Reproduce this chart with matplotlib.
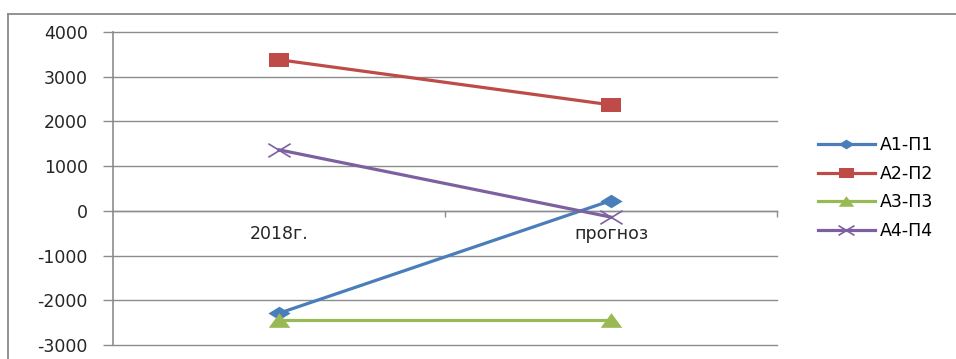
import matplotlib
matplotlib.use("Agg")
import matplotlib.pyplot as plt
from matplotlib.path import Path
from matplotlib.lines import Line2D
from matplotlib.ticker import FixedLocator, NullFormatter, FixedFormatter

categories = ["2018г.", "прогноз"]
series_names = ["А1-П1", "А2-П2", "А3-П3", "А4-П4"]
a1_p1 = [-2290, 230]
a2_p2 = [3380, 2370]
a3_p3 = [-2430, -2430]
a4_p4 = [1365, -140]
y_ticks = [-3000, -2000, -1000, 0, 1000, 2000, 3000, 4000]

colors = ["#4A7EBB", "#BE4B48", "#98B954", "#7D60A0"]

# wide markers (reference is horizontally stretched)
diamond = Path([(0, 1), (1.64, 0), (0, -1), (-1.64, 0), (0, 1)],
               [Path.MOVETO, Path.LINETO, Path.LINETO, Path.LINETO, Path.CLOSEPOLY])
square = Path([(-1.6, -1), (1.6, -1), (1.6, 1), (-1.6, 1), (-1.6, -1)],
              [Path.MOVETO, Path.LINETO, Path.LINETO, Path.LINETO, Path.CLOSEPOLY])
triangle = Path([(-1.47, -1), (1.47, -1), (0, 1), (-1.47, -1)],
                [Path.MOVETO, Path.LINETO, Path.LINETO, Path.CLOSEPOLY])
xmark = Path([(-1.64, -1), (1.64, 1), (-1.64, 1), (1.64, -1)],
             [Path.MOVETO, Path.LINETO, Path.MOVETO, Path.LINETO])

markers = [diamond, square, triangle, xmark]
msizes = [16, 15, 15.5, 16]

fig = plt.figure(figsize=(9.56, 3.59), dpi=100)
ax = fig.add_axes([113 / 956, 1 - 345 / 359, (777 - 113) / 956, (345 - 32) / 359])

x = list(range(len(categories)))
data = [a1_p1, a2_p2, a3_p3, a4_p4]
for vals, name, c, m, ms in zip(data, series_names, colors, markers, msizes):
    if m is xmark:
        ax.plot(x, vals, color=c, lw=2.3, marker=m, markersize=ms,
                markerfacecolor="none", markeredgecolor=c, markeredgewidth=1.2,
                label=name, zorder=3)
    else:
        ax.plot(x, vals, color=c, lw=2.3, marker=m, markersize=ms,
                markerfacecolor=c, markeredgecolor=c, markeredgewidth=0,
                label=name, zorder=3)

ax.set_xlim(-0.5, 1.5)
ax.set_ylim(-3000, 4000)
gridc = "#8C8C8C"
ax.set_yticks(y_ticks)
ax.set_yticklabels([str(v) for v in y_ticks])
ax.yaxis.grid(True, color=gridc, lw=1)
ax.set_axisbelow(True)
for gl in ax.get_ygridlines():
    gl.set_clip_on(False)

for s in ["top", "right"]:
    ax.spines[s].set_visible(False)
ax.spines["left"].set_color(gridc)
ax.spines["left"].set_linewidth(1.2)
ax.spines["bottom"].set_position(("data", 0))
ax.spines["bottom"].set_color(gridc)
ax.spines["bottom"].set_linewidth(1)

ax.tick_params(axis="y", length=7, width=1, color=gridc, pad=11,
               labelsize=12.5, labelcolor="#262626")
ax.xaxis.set_major_locator(FixedLocator([0.5, 1.5]))
ax.xaxis.set_major_formatter(NullFormatter())
ax.xaxis.set_minor_locator(FixedLocator(x))
ax.xaxis.set_minor_formatter(FixedFormatter(categories))
ax.tick_params(axis="x", which="major", length=4, width=1, color=gridc)
ax.tick_params(axis="x", which="minor", length=0, pad=10, labelsize=12.5,
               labelcolor="#262626")

leg = ax.legend(loc="center left", bbox_to_anchor=(802 / 956, 1 - 188 / 359),
                bbox_transform=fig.transFigure, frameon=False, fontsize=12.5,
                handlelength=3.3, handletextpad=0.3, labelspacing=0.62,
                markerscale=0.72)

# outer chart frame (only top and left visible in the reference)
fig.add_artist(Line2D([8 / 956, 1.0], [1 - 14 / 359, 1 - 14 / 359],
                      transform=fig.transFigure, color="#8A8A8A", lw=1.3))
fig.add_artist(Line2D([8 / 956, 8 / 956], [0.0, 1 - 14 / 359],
                      transform=fig.transFigure, color="#8A8A8A", lw=1.3))

fig.savefig("out.png", dpi=100)
